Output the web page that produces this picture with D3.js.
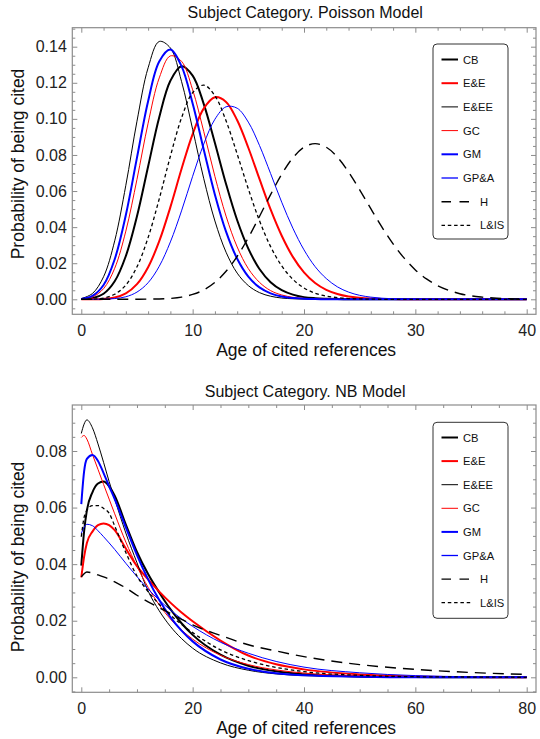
<!DOCTYPE html>
<html>
<head>
<meta charset="utf-8">
<script src="https://cdn.jsdelivr.net/npm/d3@7"></script>
<style>
  body { margin: 0; background: #fff; }
  svg { display: block; font-family: "Liberation Sans", Arial, sans-serif; }
</style>
</head>
<body>
<svg id="chart" width="540" height="739"></svg>
<script>
// --- categories (legend order) ---
const categories = ["CB", "E&E", "E&EE", "GC", "GM", "GP&A", "H", "L&IS"];

// --- Poisson model, age of cited references 0..40 ---
const poissonAges = [0,1,2,3,4,5,6,7,8,9,10,11,12,13,14,15,16,17,18,19,20,21,22,23,24,25,26,27,28,29,30,31,32,33,34,35,36,37,38,39,40];
const poissonCB   = [0.0001,0.0006,0.0031,0.0100,0.0240,0.0460,0.0736,0.1009,0.1211,0.1292,0.1240,0.1082,0.0866,0.0639,0.0438,0.0281,0.0168,0.0095,0.0051,0.0026,0.0012,0.0006,0.0003,0.0001,0,0,0,0,0,0,0,0,0,0,0,0,0,0,0,0,0];
const poissonEE   = [0,0,0.0002,0.0010,0.0033,0.0084,0.0178,0.0322,0.0511,0.0722,0.0916,0.1058,0.1120,0.1094,0.0992,0.0840,0.0667,0.0498,0.0352,0.0235,0.0149,0.0090,0.0052,0.0029,0.0015,0.0008,0.0004,0.0002,0.0001,0,0,0,0,0,0,0,0,0,0,0,0];
const poissonEEE  = [0.0004,0.0032,0.0125,0.0324,0.0632,0.0987,0.1283,0.1429,0.1393,0.1208,0.0942,0.0668,0.0434,0.0261,0.0145,0.0076,0.0037,0.0017,0.0007,0.0003,0.0001,0,0,0,0,0,0,0,0,0,0,0,0,0,0,0,0,0,0,0,0];
const poissonGC   = [0.0002,0.0013,0.0059,0.0172,0.0378,0.0665,0.0976,0.1227,0.1349,0.1319,0.1161,0.0929,0.0681,0.0461,0.0290,0.0170,0.0094,0.0048,0.0024,0.0011,0.0005,0.0002,0.0001,0,0,0,0,0,0,0,0,0,0,0,0,0,0,0,0,0,0];
const poissonGM   = [0.0002,0.0019,0.0079,0.0222,0.0467,0.0785,0.1098,0.1318,0.1384,0.1292,0.1085,0.0829,0.0580,0.0375,0.0225,0.0126,0.0066,0.0033,0.0015,0.0007,0.0003,0.0001,0,0,0,0,0,0,0,0,0,0,0,0,0,0,0,0,0,0,0];
const poissonGPA  = [0,0,0.0001,0.0004,0.0014,0.0040,0.0092,0.0183,0.0318,0.0490,0.0682,0.0861,0.0998,0.1067,0.1059,0.0982,0.0853,0.0697,0.0538,0.0394,0.0274,0.0181,0.0115,0.0069,0.0040,0.0022,0.0012,0.0006,0.0003,0.0002,0.0001,0,0,0,0,0,0,0,0,0,0];
const poissonH    = [0,0,0,0,0,0,0.0001,0.0002,0.0005,0.0012,0.0027,0.0052,0.0094,0.0155,0.0238,0.0341,0.0459,0.0580,0.0693,0.0784,0.0843,0.0863,0.0843,0.0788,0.0706,0.0607,0.0502,0.0400,0.0307,0.0228,0.0163,0.0113,0.0076,0.0050,0.0031,0.0019,0.0012,0.0007,0.0004,0.0002,0.0001];
const poissonLIS  = [0,0.0001,0.0007,0.0028,0.0079,0.0180,0.0342,0.0557,0.0793,0.1005,0.1145,0.1187,0.1128,0.0989,0.0805,0.0612,0.0436,0.0292,0.0185,0.0111,0.0063,0.0034,0.0018,0.0009,0.0004,0.0002,0.0001,0,0,0,0,0,0,0,0,0,0,0,0,0,0];

// --- NB model, age of cited references 0..80 ---
const nbAges = [0,0.5,1,2,3,4,5,6,8,10,12,14,16,18,20,25,30,35,40,50,60,70,80];
const nbCB   = [0.0395,0.0515,0.0590,0.0654,0.0685,0.0692,0.0675,0.0642,0.0540,0.0443,0.0365,0.0300,0.0241,0.0191,0.0150,0.0080,0.0041,0.0021,0.0011,0.0003,0.0001,0,0];
const nbEE   = [0.0353,0.0426,0.0475,0.0515,0.0538,0.0544,0.0538,0.0520,0.0455,0.0393,0.0346,0.0303,0.0264,0.0229,0.0198,0.0130,0.0077,0.0046,0.0028,0.0010,0.0003,0.0001,0];
const nbEEE  = [0.0862,0.0895,0.0910,0.0882,0.0825,0.0760,0.0692,0.0630,0.0510,0.0405,0.0305,0.0235,0.0180,0.0137,0.0103,0.0051,0.0025,0.0012,0.0006,0.0002,0,0,0];
const nbGC   = [0.0848,0.0855,0.0842,0.0788,0.0735,0.0682,0.0630,0.0578,0.0478,0.0392,0.0318,0.0256,0.0206,0.0167,0.0135,0.0078,0.0045,0.0026,0.0015,0.0005,0.0002,0.0001,0];
const nbGM   = [0.0612,0.0727,0.0772,0.0786,0.0765,0.0722,0.0675,0.0630,0.0530,0.0432,0.0346,0.0273,0.0213,0.0165,0.0127,0.0063,0.0030,0.0014,0.0007,0.0002,0,0,0];
const nbGPA  = [0.0509,0.0530,0.0541,0.0536,0.0518,0.0497,0.0475,0.0452,0.0403,0.0356,0.0312,0.0273,0.0238,0.0207,0.0180,0.0124,0.0085,0.0056,0.0036,0.0016,0.0006,0.0002,0.0001];
const nbH    = [0.0355,0.0366,0.0372,0.0369,0.0362,0.0355,0.0347,0.0337,0.0316,0.0290,0.0267,0.0246,0.0226,0.0205,0.0185,0.0148,0.0115,0.0093,0.0073,0.0045,0.0028,0.0017,0.0010];
const nbLIS  = [0.0497,0.0565,0.0590,0.0607,0.0607,0.0597,0.0580,0.0535,0.0441,0.0358,0.0303,0.0258,0.0220,0.0187,0.0158,0.0097,0.0059,0.0035,0.0020,0.0007,0.0002,0.0001,0];

// --- tick labels ---
const poissonXTicks = [0, 10, 20, 30, 40];
const poissonYTicks = [0, 0.02, 0.04, 0.06, 0.08, 0.10, 0.12, 0.14];
const nbXTicks = [0, 20, 40, 60, 80];
const nbYTicks = [0, 0.02, 0.04, 0.06, 0.08];

// line look per category (Mathematica-ish)
const lineStyles = {
  "CB":   { color: "#000", width: 2 },
  "E&E":  { color: "#f00", width: 2 },
  "E&EE": { color: "#000", width: 1 },
  "GC":   { color: "#f00", width: 1 },
  "GM":   { color: "#00f", width: 2 },
  "GP&A": { color: "#00f", width: 1 },
  "H":    { color: "#000", width: 1.4, dash: "11,7" },
  "L&IS": { color: "#000", width: 1.3, dash: "3.5,2.8" }
};

const svg = d3.select("#chart");

function minorsBetween(lo, hi, step, majors) {
  const out = [];
  for (let v = lo; v <= hi + 1e-9; v += step) {
    const r = Math.round(v / step) * step;
    if (!majors.some(m => Math.abs(m - r) < 1e-9)) out.push(r);
  }
  return out;
}

function drawPanel(cfg) {
  const f = cfg.frame;
  const x = d3.scaleLinear().domain(cfg.xDomain).range(cfg.xRange);
  const y = d3.scaleLinear().domain(cfg.yDomain).range(cfg.yRange);
  const g = svg.append("g");

  const clipId = "clip-" + cfg.id;
  g.append("clipPath").attr("id", clipId)
    .append("rect").attr("x", f.left).attr("y", f.top)
    .attr("width", f.right - f.left).attr("height", f.bottom - f.top);

  // title
  g.append("text").attr("x", (f.left + f.right) / 2 + 1).attr("y", cfg.titleY)
    .attr("text-anchor", "middle").attr("font-size", 16).attr("fill", "#111")
    .text(cfg.title);

  // curves
  const line = d3.line()
    .x(d => x(d[0])).y(d => y(d[1]))
    .curve(cfg.curve);
  const curves = g.append("g").attr("clip-path", `url(#${clipId})`);
  categories.forEach(name => {
    const vals = cfg.series[name];
    const pts = cfg.ages.map((a, i) => [a, vals[i]]);
    const st = lineStyles[name];
    curves.append("path").datum(pts)
      .attr("d", line)
      .attr("fill", "none")
      .attr("stroke", st.color)
      .attr("stroke-width", st.width)
      .attr("stroke-dasharray", st.dash || null)
      .attr("stroke-linejoin", "round");
  });

  // axes (ticks point inward like a Mathematica frame)
  const frameColor = "#8c8c8c";
  const styleAxis = sel => {
    sel.select(".domain").remove();
    sel.selectAll(".tick line").attr("stroke", frameColor);
    sel.selectAll(".tick text").attr("fill", "#222").attr("font-size", 16)
      .attr("font-family", "Liberation Sans, Arial, sans-serif");
  };
  const xMin = minorsBetween(cfg.xDomainFull[0], cfg.xDomainFull[1], cfg.xMinorStep, cfg.xTicks)
    .filter(v => v >= cfg.xDomainFull[0] && v <= cfg.xDomainFull[1]);
  const yMin = minorsBetween(cfg.yMinorStart, cfg.yDomainFull[1], cfg.yMinorStep, cfg.yTicks)
    .filter(v => v >= cfg.yDomainFull[0] && v <= cfg.yDomainFull[1]);

  // bottom
  g.append("g").attr("transform", `translate(0,${f.bottom})`)
    .call(d3.axisBottom(x).tickValues(cfg.xTicks).tickFormat(d3.format("d"))
      .tickSizeInner(-5).tickSizeOuter(0).tickPadding(10)).call(styleAxis);
  g.append("g").attr("transform", `translate(0,${f.bottom})`)
    .call(d3.axisBottom(x).tickValues(xMin).tickFormat("")
      .tickSizeInner(-3).tickSizeOuter(0)).call(styleAxis);
  // top
  g.append("g").attr("transform", `translate(0,${f.top})`)
    .call(d3.axisTop(x).tickValues(cfg.xTicks).tickFormat("")
      .tickSizeInner(-5).tickSizeOuter(0)).call(styleAxis);
  g.append("g").attr("transform", `translate(0,${f.top})`)
    .call(d3.axisTop(x).tickValues(xMin).tickFormat("")
      .tickSizeInner(-3).tickSizeOuter(0)).call(styleAxis);
  // left
  g.append("g").attr("transform", `translate(${f.left},0)`)
    .call(d3.axisLeft(y).tickValues(cfg.yTicks).tickFormat(d3.format(".2f"))
      .tickSizeInner(-5).tickSizeOuter(0).tickPadding(5.5)).call(styleAxis);
  g.append("g").attr("transform", `translate(${f.left},0)`)
    .call(d3.axisLeft(y).tickValues(yMin).tickFormat("")
      .tickSizeInner(-3).tickSizeOuter(0)).call(styleAxis);
  // right
  g.append("g").attr("transform", `translate(${f.right},0)`)
    .call(d3.axisRight(y).tickValues(cfg.yTicks).tickFormat("")
      .tickSizeInner(-5).tickSizeOuter(0)).call(styleAxis);
  g.append("g").attr("transform", `translate(${f.right},0)`)
    .call(d3.axisRight(y).tickValues(yMin).tickFormat("")
      .tickSizeInner(-3).tickSizeOuter(0)).call(styleAxis);

  // frame
  g.append("rect").attr("x", f.left).attr("y", f.top)
    .attr("width", f.right - f.left).attr("height", f.bottom - f.top)
    .attr("fill", "none").attr("stroke", frameColor).attr("stroke-width", 1.2);

  // axis labels
  g.append("text").attr("x", (f.left + f.right) / 2 + 2).attr("y", cfg.xLabelY)
    .attr("text-anchor", "middle").attr("font-size", 17.5).attr("fill", "#111")
    .text("Age of cited references");
  g.append("text")
    .attr("transform", `translate(24,${cfg.yLabelCenter}) rotate(-90)`)
    .attr("text-anchor", "middle").attr("font-size", 17.5).attr("fill", "#111")
    .text("Probability of being cited");

  // legend
  const L = cfg.legend;
  const lg = g.append("g");
  lg.append("rect").attr("x", L.x).attr("y", L.y).attr("width", L.w).attr("height", L.h)
    .attr("rx", 4).attr("ry", 4).attr("fill", "#fff")
    .attr("stroke", "#333").attr("stroke-width", 1);
  categories.forEach((name, i) => {
    const st = lineStyles[name];
    const cy = L.firstRow + i * L.rowStep;
    const longSample = !!st.dash;
    const x0 = L.x + 8.5;
    const x1 = longSample ? x0 + (name === "H" ? 27.5 : 31.5) : x0 + 16.5;
    lg.append("line").attr("x1", x0).attr("x2", x1).attr("y1", cy).attr("y2", cy)
      .attr("stroke", st.color).attr("stroke-width", name === "GP&A" ? 1.3 : st.width)
      .attr("stroke-dasharray", name === "H" ? "9.5,8.5" : (st.dash || null));
    lg.append("text").attr("x", longSample ? L.x + 47 : L.x + 30).attr("y", cy + 4)
      .attr("font-size", 11.2).attr("fill", "#111").text(name);
  });
}

drawPanel({
  id: "poisson",
  title: "Subject Category. Poisson Model",
  titleY: 17.5,
  frame: { left: 72.3, right: 536, top: 27.7, bottom: 314.3 },
  xDomain: [0, 40], xRange: [81.3, 526.7],
  yDomain: [0, 0.14], yRange: [299.3, 46.7],
  xDomainFull: [-0.7, 40.8], yDomainFull: [-0.008, 0.150],
  xTicks: poissonXTicks, yTicks: poissonYTicks,
  xMinorStep: 2, yMinorStep: 0.005, yMinorStart: -0.005,
  ages: poissonAges,
  series: { "CB": poissonCB, "E&E": poissonEE, "E&EE": poissonEEE, "GC": poissonGC,
            "GM": poissonGM, "GP&A": poissonGPA, "H": poissonH, "L&IS": poissonLIS },
  curve: d3.curveCatmullRom.alpha(0.5),
  xLabelY: 355.5, yLabelCenter: 164,
  legend: { x: 433, y: 44, w: 75, h: 195, firstRow: 59.5, rowStep: 23.7 }
});

drawPanel({
  id: "nb",
  title: "Subject Category. NB Model",
  titleY: 396.5,
  frame: { left: 72.3, right: 536, top: 405, bottom: 692.3 },
  xDomain: [0, 80], xRange: [81.3, 526.7],
  yDomain: [0, 0.08], yRange: [677.3, 451],
  xDomainFull: [-1.4, 81.6], yDomainFull: [-0.0053, 0.0962],
  xTicks: nbXTicks, yTicks: nbYTicks,
  xMinorStep: 5, yMinorStep: 0.005, yMinorStart: -0.005,
  ages: nbAges,
  series: { "CB": nbCB, "E&E": nbEE, "E&EE": nbEEE, "GC": nbGC,
            "GM": nbGM, "GP&A": nbGPA, "H": nbH, "L&IS": nbLIS },
  curve: d3.curveMonotoneX,
  xLabelY: 733.5, yLabelCenter: 557,
  legend: { x: 433, y: 422.3, w: 75, h: 196, firstRow: 437.5, rowStep: 23.6 }
});
</script>
</body>
</html>
